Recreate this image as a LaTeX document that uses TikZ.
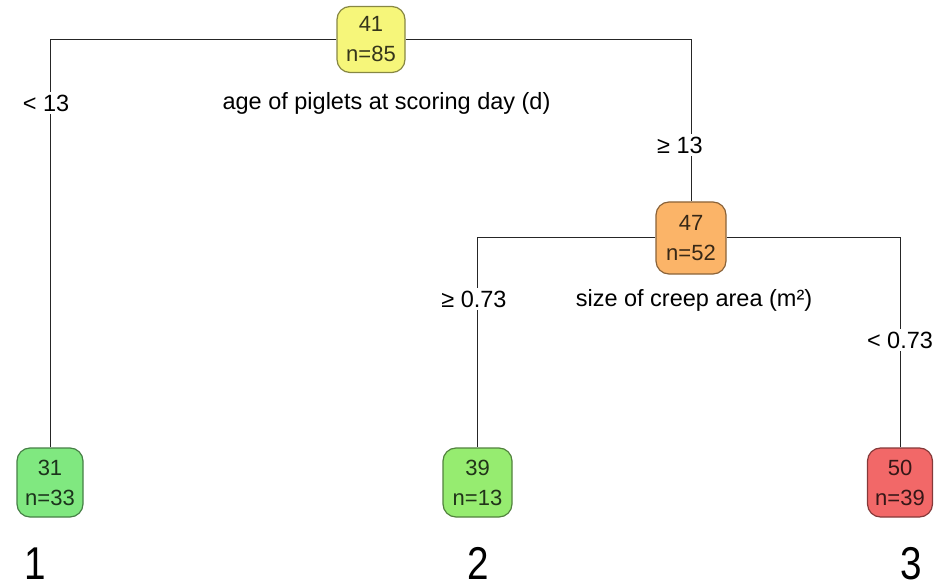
\documentclass[tikz,border=0pt]{standalone}
\usepackage{fontspec}
\setmainfont{Liberation Sans}
\begin{document}
\begin{tikzpicture}[x=1pt,y=-1pt,
  every node/.style={font=\fontsize{23.5}{25}\selectfont},
  treebox/.style={draw=#1!55!black, line width=1.2pt, rounded corners=13pt,
     align=center, inner sep=0pt, font=\fontsize{22}{30}\selectfont,
     text=#1!22!black},
  cutlabel/.style={fill=white, inner sep=3pt},
  branch/.style={line width=1pt, black!85}]
\definecolor{cyellow}{RGB}{246,246,122}
\definecolor{corange}{RGB}{251,180,104}
\definecolor{cgreenA}{RGB}{128,232,128}
\definecolor{cgreenB}{RGB}{150,236,112}
\definecolor{cred}{RGB}{242,104,104}
\path[use as bounding box] (0,0) rectangle (938,583);

% tree nodes
\node[treebox=cyellow, fill=cyellow, minimum width=68pt, minimum height=66pt] (root) at (371,39.5) {41\\n=85};
\node[treebox=corange, fill=corange, minimum width=70pt, minimum height=72pt] (creep) at (691,238) {47\\n=52};
\node[treebox=cgreenA, fill=cgreenA, minimum width=66pt, minimum height=69pt] (leafA) at (50,482.5) {31\\n=33};
\node[treebox=cgreenB, fill=cgreenB, minimum width=69pt, minimum height=69pt] (leafB) at (477.5,482.5) {39\\n=13};
\node[treebox=cred, fill=cred, minimum width=65pt, minimum height=69pt] (leafC) at (900,482.5) {50\\n=39};

% branches
\draw[branch] (root.west) -| (leafA.north);
\draw[branch] (root.east) -| (creep.north);
\draw[branch] (creep.west) -| (leafB.north);
\draw[branch] (creep.east) -| (leafC.north);

% split labels
\node[cutlabel] (lA) at (46,103) {< 13};
\node[cutlabel] (lB) at (680,145) {≥ 13};
\node[cutlabel] (lC) at (474,299) {≥ 0.73};
\node[cutlabel] (lD) at (900,340) {< 0.73};
\node (vage) at (386.5,103) {age of piglets at scoring day (d)};
\node (vcreep) at (694,300) {size of creep area (m²)};

% leaf numbers
\begin{scope}[every node/.style={font=\fontsize{46}{48}\selectfont, xscale=0.84, anchor=base, inner sep=0pt}]
\node (nA) at (35,579) {1};
\node (nB) at (478,579) {2};
\node (nC) at (911,579) {3};
\end{scope}
\end{tikzpicture}
\end{document}
